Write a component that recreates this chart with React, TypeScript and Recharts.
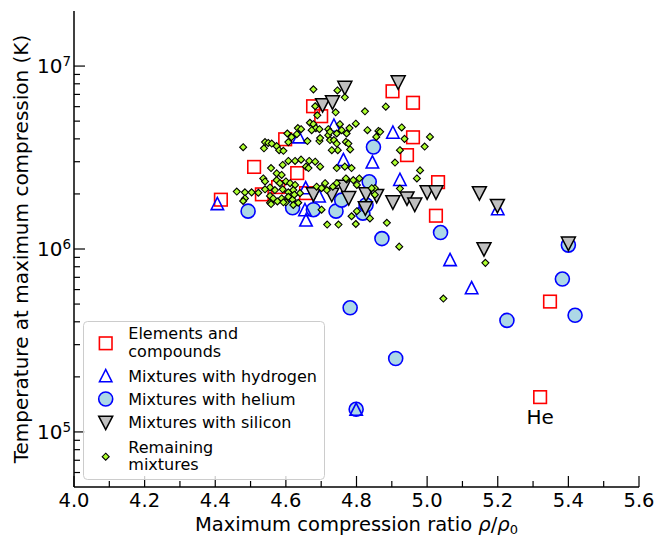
import React from 'react';
import { ScatterChart, Scatter, XAxis, YAxis, Legend, ReferenceDot, Label } from 'recharts';

const FONT = '"DejaVu Sans", sans-serif';

// axis ticks
const xMajorTicks = [4.0, 4.2, 4.4, 4.6, 4.8, 5.0, 5.2, 5.4, 5.6];
const xMinorTicks = [4.1, 4.3, 4.5, 4.7, 4.9, 5.1, 5.3, 5.5];
const yMajorTicks = [1e5, 1e6, 1e7];
const yMinorTicks = [
  6e4, 7e4, 8e4, 9e4,
  2e5, 3e5, 4e5, 5e5, 6e5, 7e5, 8e5, 9e5,
  2e6, 3e6, 4e6, 5e6, 6e6, 7e6, 8e6, 9e6,
];

// [compression ratio, temperature K]
const elementsAndCompounds = [
  [4.416, 1.86e6], [4.51, 2.81e6], [4.598, 3.98e6], [4.632, 2.6e6], [4.532, 1.99e6],
  [4.578, 2.18e6], [4.657, 2.02e6], [4.677, 6.03e6], [4.7, 5.32e6], [4.902, 7.28e6],
  [4.96, 6.3e6], [4.96, 4.08e6], [4.943, 3.26e6], [5.031, 2.32e6], [5.025, 1.52e6],
  [5.348, 5.16e5], [5.32, 1.55e5],
];

const hydrogenMixtures = [
  [4.406, 1.77e6], [4.637, 4.1e6], [4.736, 4.75e6], [4.763, 3.08e6], [4.845, 2.99e6],
  [4.903, 4.35e6], [4.923, 2.4e6], [4.656, 2.16e6], [4.694, 1.95e6], [4.654, 1.64e6],
  [4.657, 1.44e6], [5.2, 1.66e6], [5.065, 8.75e5], [5.126, 6.14e5], [4.799, 1.33e5],
];

const heliumMixtures = [
  [4.493, 1.61e6], [4.619, 1.68e6], [4.678, 1.64e6], [4.742, 1.61e6], [4.758, 1.85e6],
  [4.818, 1.57e6], [4.827, 1.74e6], [4.836, 2.33e6], [4.848, 3.61e6], [4.872, 1.14e6],
  [5.038, 1.23e6], [5.226, 4.07e5], [5.383, 6.85e5], [5.4, 1.05e6], [5.419, 4.34e5],
  [4.782, 4.77e5], [4.911, 2.52e5], [4.799, 1.33e5],
];

const siliconMixtures = [
  [4.767, 7.6e6], [4.918, 8.15e6], [4.704, 6.11e6], [4.732, 6.34e6], [4.678, 1.99e6],
  [4.73, 1.98e6], [4.763, 2.19e6], [4.778, 1.9e6], [4.827, 1.99e6], [4.857, 1.95e6],
  [4.825, 1.67e6], [4.903, 1.8e6], [4.943, 1.89e6], [4.965, 1.75e6], [5.0, 2.04e6],
  [5.025, 2.04e6], [5.148, 2.02e6], [5.199, 1.72e6], [5.161, 9.98e5], [5.4, 1.07e6],
];

const remainingMixtures = [
  [4.678, 7.46e6], [4.746, 7.36e6], [4.767, 6.75e6], [4.683, 6.03e6], [4.883, 6.0e6],
  [4.689, 5.38e6], [4.741, 5.59e6], [4.824, 5.66e6], [4.668, 4.9e6], [4.678, 4.81e6],
  [4.685, 4.58e6], [4.695, 4.52e6], [4.673, 4.46e6], [4.634, 4.58e6], [4.643, 4.52e6],
  [4.631, 4.24e6], [4.661, 3.89e6], [4.695, 3.89e6], [4.72, 4.52e6], [4.72, 4.19e6],
  [4.725, 3.94e6], [4.753, 4.81e6], [4.758, 4.46e6], [4.744, 4.28e6], [4.736, 3.94e6],
  [4.744, 3.77e6], [4.772, 4.28e6], [4.78, 4.58e6], [4.798, 4.84e6], [4.77, 3.85e6],
  [4.782, 3.5e6], [4.747, 3.47e6], [4.73, 3.47e6], [4.831, 4.46e6], [4.862, 4.42e6],
  [4.856, 4.1e6], [4.928, 4.62e6], [4.936, 4.0e6], [4.923, 3.47e6], [5.008, 4.1e6],
  [4.993, 3.63e6], [4.909, 2.97e6], [4.98, 2.69e6], [4.971, 2.43e6], [4.923, 2.14e6],
  [4.479, 3.6e6], [4.541, 3.84e6], [4.55, 3.8e6], [4.56, 3.77e6], [4.538, 3.55e6],
  [4.574, 3.65e6], [4.581, 3.47e6], [4.593, 3.44e6], [4.604, 4.28e6], [4.607, 3.84e6],
  [4.607, 3.03e6], [4.626, 3.03e6], [4.643, 3.08e6], [4.666, 3.03e6], [4.683, 3.0e6],
  [4.657, 2.82e6], [4.697, 2.82e6], [4.591, 2.88e6], [4.558, 2.77e6], [4.574, 2.59e6],
  [4.588, 2.54e6], [4.536, 2.43e6], [4.541, 2.34e6], [4.574, 2.38e6], [4.583, 2.29e6],
  [4.6, 2.34e6], [4.612, 2.29e6], [4.626, 2.24e6], [4.461, 2.06e6], [4.484, 2.04e6],
  [4.503, 2.04e6], [4.522, 2.03e6], [4.484, 1.89e6], [4.555, 2.17e6], [4.569, 2.1e6],
  [4.591, 2.12e6], [4.607, 2.04e6], [4.621, 2.1e6], [4.64, 2.02e6], [4.555, 1.95e6],
  [4.564, 1.89e6], [4.588, 1.89e6], [4.607, 1.93e6], [4.619, 1.86e6], [4.555, 1.79e6],
  [4.576, 1.82e6], [4.6, 1.8e6], [4.711, 2.29e6], [4.772, 2.4e6], [4.791, 2.38e6],
  [4.801, 2.24e6], [4.744, 2.29e6], [4.733, 2.19e6], [4.687, 2.19e6], [4.701, 2.15e6],
  [4.716, 2.1e6], [4.852, 2.15e6], [4.852, 1.98e6], [4.701, 1.64e6], [4.786, 1.51e6],
  [4.801, 1.61e6], [4.838, 1.47e6], [4.717, 1.36e6], [4.749, 1.36e6], [4.798, 1.37e6],
  [4.886, 1.39e6], [4.921, 1.03e6], [5.165, 8.4e5], [5.046, 5.36e5], [4.725, 4.37e6],
  [4.697, 4.04e6], [4.777, 3.77e6], [4.744, 2.77e6], [4.767, 2.82e6], [4.786, 2.77e6],
  [4.77, 2.43e6], [4.808, 2.43e6], [4.843, 2.15e6], [4.867, 4.37e6], [4.479, 1.83e6],
  [4.558, 1.76e6], [4.593, 1.8e6], [4.616, 4.09e6], [4.664, 2.77e6], [4.541, 2.12e6],
  [4.624, 1.98e6], [4.635, 1.79e6], [4.621, 1.74e6],
];

const heliumLabel = { x: 5.32, t: 1.55e5, text: 'He' };

const toPoints = (rows: number[][]) => rows.map(([x, t]) => ({ x, t }));

const near = (list: number[], v: number) => list.some((m) => Math.abs(m - v) <= Math.abs(m) * 1e-6);

// marker shapes
const squareShape = ({ cx, cy }: any) => (
  <rect x={cx - 6.3} y={cy - 6.3} width={12.6} height={12.6} fill="none" stroke="#ff0000" strokeWidth={1.6} />
);
const upTriangleShape = ({ cx, cy }: any) => (
  <path d={`M${cx},${cy - 6.2}L${cx - 6.2},${cy + 6}L${cx + 6.2},${cy + 6}Z`} fill="none" stroke="#0000ff" strokeWidth={1.6} />
);
const circleShape = ({ cx, cy }: any) => (
  <circle cx={cx} cy={cy} r={7} fill="#add8e6" stroke="#0000ff" strokeWidth={1.6} />
);
const downTriangleShape = ({ cx, cy }: any) => (
  <path d={`M${cx - 7},${cy - 6.5}L${cx + 7},${cy - 6.5}L${cx},${cy + 7}Z`} fill="#c0c0c0" stroke="#000" strokeWidth={1.5} />
);
const diamondShape = ({ cx, cy }: any) => (
  <path d={`M${cx},${cy - 3.5}L${cx + 3.5},${cy}L${cx},${cy + 3.5}L${cx - 3.5},${cy}Z`} fill="#adff2f" stroke="#000" strokeWidth={1.1} />
);

// tick renderers (ticks point inward)
const BottomTick = ({ x, y, payload }: any) => {
  const major = near(xMajorTicks, payload.value);
  return (
    <g>
      <line x1={x} x2={x} y1={y} y2={y - (major ? 11 : 6)} stroke="#000" strokeWidth={1.2} />
      {major && (
        <text x={x} y={y + 20} textAnchor="middle" fontSize={19.5} fontFamily={FONT} fill="#000">
          {payload.value.toFixed(1)}
        </text>
      )}
    </g>
  );
};
const TopTick = ({ x, y, payload }: any) => {
  const major = near(xMajorTicks, payload.value);
  return <line x1={x} x2={x} y1={y} y2={y + (major ? 11 : 6)} stroke="#000" strokeWidth={1.2} />;
};
const LeftTick = ({ x, y, payload }: any) => {
  const major = near(yMajorTicks, payload.value);
  return (
    <g>
      <line x1={x} x2={x + (major ? 11 : 6)} y1={y} y2={y} stroke="#000" strokeWidth={1.2} />
      {major && (
        <text x={x - 3} y={y + 7.3} textAnchor="end" fontSize={20} fontFamily={FONT} fill="#000">
          10
          <tspan dy={-7.5} fontSize={13.5}>{Math.round(Math.log10(payload.value))}</tspan>
        </text>
      )}
    </g>
  );
};
const RightTick = ({ x, y, payload }: any) => {
  const major = near(yMajorTicks, payload.value);
  return <line x1={x} x2={x - (major ? 11 : 6)} y1={y} y2={y} stroke="#000" strokeWidth={1.2} />;
};

const XTitle = ({ viewBox }: any) => (
  <text x={viewBox.x + viewBox.width / 2} y={viewBox.y + 43.5} textAnchor="middle" fontSize={19.5} fontFamily={FONT} fill="#000">
    Maximum compression ratio <tspan fontStyle="italic">ρ</tspan>/<tspan fontStyle="italic">ρ</tspan>
    <tspan dy={3.5} fontSize={13}>0</tspan>
  </text>
);
const YTitle = ({ viewBox }: any) => {
  const cy = viewBox.y + viewBox.height / 2;
  return (
    <text x={28} y={cy} transform={`rotate(-90, 28, ${cy})`} textAnchor="middle" fontSize={20} fontFamily={FONT} fill="#000">
      Temperature at maximum compression (K)
    </text>
  );
};

const legendItems = [
  { lines: ['Elements and', 'compounds'], shape: squareShape, cy: 22.3, base: [18.3, 36] },
  { lines: ['Mixtures with hydrogen'], shape: upTriangleShape, cy: 54.7, base: [60.7] },
  { lines: ['Mixtures with helium'], shape: circleShape, cy: 78, base: [84] },
  { lines: ['Mixtures with silicon'], shape: downTriangleShape, cy: 101.7, base: [107.3] },
  { lines: ['Remaining', 'mixtures'], shape: diamondShape, cy: 135.7, base: [131.7, 149] },
];

const LegendBox = () => (
  <svg width={242} height={159} style={{ display: 'block' }}>
    <rect x={0.5} y={0.5} width={241} height={158} rx={4} fill="#fff" fillOpacity={0.8} stroke="#cccccc" />
    {legendItems.map((item, i) => (
      <g key={i}>
        {item.shape({ cx: 22.7, cy: item.cy })}
        {item.lines.map((line, j) => (
          <text key={j} x={45.3} y={item.base[j]} fontSize={16} fontFamily={FONT} fill="#000">
            {line}
          </text>
        ))}
      </g>
    ))}
  </svg>
);

const HeText = ({ viewBox }: any) => (
  <text x={viewBox.x + viewBox.width / 2} y={viewBox.y + 27} textAnchor="middle" fontSize={20} fontFamily={FONT} fill="#000">
    {heliumLabel.text}
  </text>
);

export default function App() {
  const xTicks = [...xMajorTicks, ...xMinorTicks].sort((a, b) => a - b);
  const yTicks = [...yMinorTicks, ...yMajorTicks].sort((a, b) => a - b);
  return (
    <div style={{ width: 668, height: 537, fontFamily: FONT, overflow: 'hidden' }}>
      <style>{'body{margin:0}'}</style>
      <ScatterChart width={668} height={537} margin={{ top: 11, right: 29, bottom: 0, left: 0 }}>
        <XAxis
          dataKey="x" type="number" domain={[4.0, 5.6]} allowDataOverflow ticks={xTicks} interval={0}
          height={50} tickSize={0} tickMargin={0} tick={BottomTick} tickLine={false}
          axisLine={{ stroke: '#000', strokeWidth: 1.5 }}
        >
          <Label content={XTitle} />
        </XAxis>
        <XAxis
          xAxisId="top" orientation="top" dataKey="x" type="number" domain={[4.0, 5.6]} allowDataOverflow
          ticks={xTicks} interval={0} height={0} tickSize={0} tickMargin={0} tick={TopTick} tickLine={false}
          axisLine={{ stroke: '#000', strokeWidth: 1.5 }}
        />
        <YAxis
          dataKey="t" type="number" scale="log" domain={[5e4, 2e7]} allowDataOverflow ticks={yTicks} interval={0}
          width={74} tickSize={0} tickMargin={0} tick={LeftTick} tickLine={false}
          axisLine={{ stroke: '#000', strokeWidth: 1.5 }}
        >
          <Label content={YTitle} />
        </YAxis>
        <YAxis
          yAxisId="right" orientation="right" dataKey="t" type="number" scale="log" domain={[5e4, 2e7]}
          allowDataOverflow ticks={yTicks} interval={0} width={0} tickSize={0} tickMargin={0} tick={RightTick}
          tickLine={false} axisLine={{ stroke: '#000', strokeWidth: 1.5 }}
        />
        <Scatter name="Elements and compounds" data={toPoints(elementsAndCompounds)} shape={squareShape} isAnimationActive={false} />
        <Scatter name="Mixtures with helium" data={toPoints(heliumMixtures)} shape={circleShape} isAnimationActive={false} />
        <Scatter name="Mixtures with hydrogen" data={toPoints(hydrogenMixtures)} shape={upTriangleShape} isAnimationActive={false} />
        <Scatter name="Mixtures with silicon" data={toPoints(siliconMixtures)} shape={downTriangleShape} isAnimationActive={false} />
        <Scatter name="Remaining mixtures" data={toPoints(remainingMixtures)} shape={diamondShape} isAnimationActive={false} />
        <ReferenceDot x={heliumLabel.x} y={heliumLabel.t} r={0} fill="none" stroke="none" label={<HeText />} />
        <Legend
          content={<LegendBox />}
          layout="horizontal" verticalAlign="middle" align="center"
          wrapperStyle={{ position: 'absolute', left: 83, top: 321, width: 242, height: 159 }}
        />
      </ScatterChart>
    </div>
  );
}
